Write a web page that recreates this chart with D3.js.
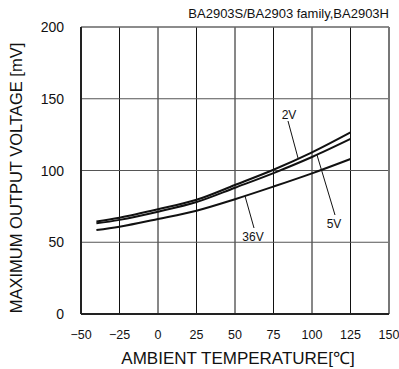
<!DOCTYPE html>
<html><head><meta charset="utf-8">
<script src="https://cdn.jsdelivr.net/npm/d3@7/dist/d3.min.js"></script>
<style>body{margin:0;background:#fff}svg{font-family:"Liberation Sans",Arial,sans-serif}</style>
</head><body><svg id="c" width="399" height="369"></svg>
<script>
const temps = [-40, -25, 0, 25, 50, 75, 100, 125];
const v2V  = [64.5, 67.1, 73.0, 79.6, 89.9, 100.5, 112.6, 126.5];
const v5V  = [63.2, 65.6, 71.3, 78.0, 88.0, 98.2, 109.4, 122.0];
const v36V = [58.5, 60.8, 66.2, 72.0, 80.0, 88.8, 98.0, 108.0];
const xTicks = [-50, -25, 0, 25, 50, 75, 100, 125, 150];
const yTicks = [0, 50, 100, 150, 200];
const seriesNames = ["2V", "5V", "36V"];

const svg = d3.select("#c");
const x = d3.scaleLinear().domain([-50, 150]).range([81, 389]);
const y = d3.scaleLinear().domain([0, 200]).range([314, 27]);

// grid
svg.append("g").selectAll("line").data(xTicks.slice(1, -1)).join("line")
  .attr("x1", d => x(d)).attr("x2", d => x(d)).attr("y1", y(200)).attr("y2", y(0))
  .attr("stroke", "#111").attr("stroke-width", 1);
svg.append("g").selectAll("line").data(yTicks.slice(1, -1)).join("line")
  .attr("x1", x(-50)).attr("x2", x(150)).attr("y1", d => y(d)).attr("y2", d => y(d))
  .attr("stroke", "#555").attr("stroke-width", 1);
// frame
svg.append("line").attr("x1", x(-50)).attr("x2", x(150)).attr("y1", y(200)).attr("y2", y(200)).attr("stroke", "#666").attr("stroke-width", 1.5);
svg.append("line").attr("x1", x(150)).attr("x2", x(150)).attr("y1", y(200)).attr("y2", y(0)).attr("stroke", "#777").attr("stroke-width", 2);
svg.append("line").attr("x1", x(-50)).attr("x2", x(-50)).attr("y1", y(200)).attr("y2", y(0)).attr("stroke", "#222").attr("stroke-width", 2);
svg.append("line").attr("x1", x(-50)).attr("x2", x(150)).attr("y1", y(0)).attr("y2", y(0)).attr("stroke", "#222").attr("stroke-width", 2);

// tick labels
svg.append("g").selectAll("text").data(yTicks).join("text")
  .attr("x", 64).attr("y", d => y(d) + 5).attr("text-anchor", "end")
  .attr("font-size", 14).attr("fill", "#111").text(d => d);
svg.append("g").selectAll("text").data(xTicks).join("text")
  .attr("x", d => x(d)).attr("y", 339).attr("text-anchor", "middle")
  .attr("font-size", 12.5).attr("fill", "#111").text(d => d < 0 ? "\u2212" + Math.abs(d) : d);

// titles
svg.append("text").attr("x", 238).attr("y", 364).attr("text-anchor", "middle")
  .attr("font-size", 17).attr("fill", "#111").text("AMBIENT TEMPERATURE[\u2103]");
svg.append("text").attr("transform", "translate(22,178) rotate(-90)").attr("text-anchor", "middle")
  .attr("font-size", 16.5).attr("fill", "#111").text("MAXIMUM OUTPUT VOLTAGE [mV]");
svg.append("text").attr("x", 389).attr("y", 18).attr("text-anchor", "end")
  .attr("font-size", 13).attr("fill", "#111").text("BA2903S/BA2903 family,BA2903H");

// curves
const line = d3.line().x((d, i) => x(temps[i])).y(d => y(d)).curve(d3.curveCatmullRom.alpha(0.5));
[v2V, v5V, v36V].forEach(s => {
  svg.append("path").attr("d", line(s)).attr("fill", "none").attr("stroke", "#111").attr("stroke-width", 2);
});

// annotations
const ann = [
  {t: seriesNames[0], tx: 289, ty: 119, l: [[288, 121], [298, 158]]},
  {t: seriesNames[1], tx: 334, ty: 228, l: [[317, 155], [335, 215]]},
  {t: seriesNames[2], tx: 253, ty: 241, l: [[245, 196], [254, 228]]}
];
ann.forEach(a => {
  svg.append("line").attr("x1", a.l[0][0]).attr("y1", a.l[0][1]).attr("x2", a.l[1][0]).attr("y2", a.l[1][1])
    .attr("stroke", "#111").attr("stroke-width", 1);
  svg.append("text").attr("x", a.tx).attr("y", a.ty).attr("text-anchor", "middle")
    .attr("font-size", 12).attr("fill", "#111").text(a.t);
});
</script></body></html>
